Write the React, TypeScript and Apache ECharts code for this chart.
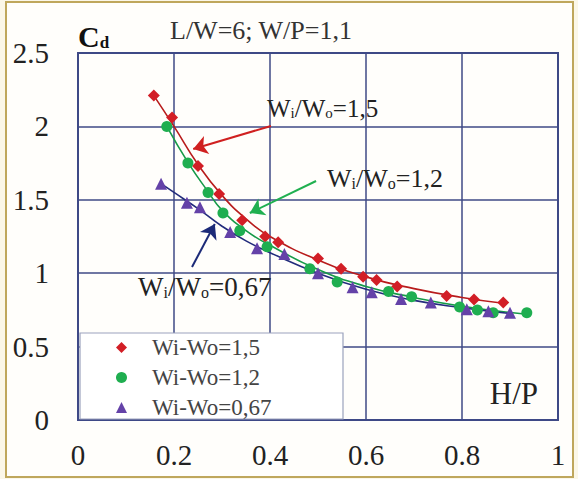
import { useEffect, useRef } from "react";
import * as echarts from "echarts";

const seriesNames = ["Wi-Wo=1,5", "Wi-Wo=1,2", "Wi-Wo=0,67"];
const seriesColors = ["#d21e26", "#1fae50", "#6442a8"];
const curveColors = ["#b81c1c", "#169a48", "#232c7c"];

const red: number[][] = [
  [0.158, 2.21], [0.196, 2.06], [0.25, 1.73], [0.294, 1.54], [0.342, 1.36],
  [0.39, 1.25], [0.417, 1.21], [0.5, 1.1], [0.548, 1.03], [0.594, 0.975],
  [0.622, 0.953], [0.665, 0.91], [0.768, 0.845], [0.825, 0.82], [0.886, 0.8],
];
const green: number[][] = [
  [0.185, 2.0], [0.229, 1.75], [0.271, 1.55], [0.302, 1.41], [0.337, 1.29],
  [0.394, 1.18], [0.483, 1.03], [0.54, 0.94], [0.647, 0.875], [0.695, 0.84],
  [0.795, 0.77], [0.832, 0.75], [0.865, 0.73], [0.935, 0.73],
];
const purple: number[][] = [
  [0.173, 1.61], [0.227, 1.48], [0.254, 1.45], [0.317, 1.28], [0.373, 1.17],
  [0.43, 1.13], [0.5, 1.0], [0.572, 0.905], [0.612, 0.87], [0.673, 0.825],
  [0.735, 0.8], [0.81, 0.755], [0.855, 0.74], [0.9, 0.73],
];

const redCurve: number[][] = [
  [0.158, 2.21], [0.2, 2.0], [0.25, 1.74], [0.3, 1.53], [0.35, 1.37], [0.4, 1.25],
  [0.5, 1.09], [0.6, 0.975], [0.7, 0.895], [0.8, 0.835], [0.886, 0.795],
];
const greenCurve: number[][] = [
  [0.185, 2.0], [0.23, 1.75], [0.27, 1.56], [0.3, 1.43], [0.35, 1.29], [0.4, 1.19],
  [0.5, 1.025], [0.6, 0.91], [0.7, 0.835], [0.8, 0.775], [0.935, 0.72],
];
const purpleCurve: number[][] = [
  [0.173, 1.61], [0.2, 1.55], [0.25, 1.44], [0.3, 1.32], [0.35, 1.22], [0.4, 1.14],
  [0.5, 1.0], [0.6, 0.89], [0.7, 0.815], [0.8, 0.765], [0.9, 0.725],
];

// arrows: [from, to] in data coordinates
const arrowRed = [[0.402, 2.003], [0.24, 1.846]];
const arrowGreen = [[0.496, 1.628], [0.358, 1.41]];
const arrowBlue = [[0.2375, 1.042], [0.285, 1.335]];

const xAxisRange = { min: 0, max: 1, interval: 0.2 };
const yAxisRange = { min: 0, max: 2.5, interval: 0.5 };

const titleText = "L/W=6; W/P=1,1";
const yTitle = ["C", "d"];
const xTitle = "H/P";
const annotations = [
  { text: "{m|W}{s|i}{m|/W}{s|o}{m|=1,5}", x: 267, y: 108, size: 25 },
  { text: "{m|W}{s|i}{m|/W}{s|o}{m|=1,2}", x: 327, y: 178, size: 26 },
  { text: "{m|W}{s|i}{m|/W}{s|o}{m|=0,67}", x: 138, y: 287, size: 27 },
];

const FONT = "Liberation Serif";
const GRIDC = "#3f4a86";

export default function App() {
  const ref = useRef<HTMLDivElement>(null);
  useEffect(() => {
    if (!ref.current) return;
    const chart = echarts.init(ref.current, undefined, { renderer: "svg" });
    const symbols = ["diamond", "circle", "triangle"];
    const scatterData = [red, green, purple];
    const curveData = [redCurve, greenCurve, purpleCurve];
    const arrows = [arrowRed, arrowGreen, arrowBlue];
    const arrowColors = ["#d02020", "#20b050", "#1c2a78"];

    const series: any[] = [];
    curveData.forEach((d, i) => {
      series.push({
        type: "line",
        name: "fit " + seriesNames[i],
        data: d,
        smooth: true,
        showSymbol: false,
        symbol: "none",
        lineStyle: { color: curveColors[i], width: 1.6 },
        z: 2,
        silent: true,
        markLine: {
          silent: true,
          symbol: ["none", "arrow"],
          symbolSize: 14,
          label: { show: false },
          itemStyle: { color: arrowColors[i] },
          lineStyle: { color: arrowColors[i], width: 2, type: "solid" },
          data: [[{ coord: arrows[i][0] }, { coord: arrows[i][1] }]],
        },
      });
    });
    scatterData.forEach((d, i) => {
      series.push({
        type: "scatter",
        name: seriesNames[i],
        data: d,
        symbol: symbols[i],
        symbolSize: i === 1 ? 11 : 12,
        itemStyle: { color: seriesColors[i], opacity: 1 },
        z: 3,
      });
    });

    const axisRich = { a: { fontFamily: FONT, fontSize: 29, color: "#222" } };

    chart.setOption({
      animation: false,
      backgroundColor: "#ffffff",
      textStyle: { fontFamily: FONT },
      grid: {
        left: 78,
        right: 20,
        top: 53,
        bottom: 59,
        show: true,
        borderColor: GRIDC,
        borderWidth: 2,
        backgroundColor: "transparent",
      },
      xAxis: {
        type: "value",
        ...xAxisRange,
        axisLine: { show: false },
        axisTick: { show: false },
        splitLine: { show: true, lineStyle: { color: GRIDC, width: 1.5 } },
        axisLabel: {
          fontFamily: FONT, fontSize: 29, color: "#222", margin: 20,
          formatter: (v: number) => "{a|" + v + "}",
          rich: axisRich,
        },
      },
      yAxis: {
        type: "value",
        ...yAxisRange,
        axisLine: { show: false },
        axisTick: { show: false },
        splitLine: { show: true, lineStyle: { color: GRIDC, width: 1.5 } },
        axisLabel: {
          fontFamily: FONT, fontSize: 29, color: "#222", margin: 29,
          formatter: (v: number) => "{a|" + v + "}",
          rich: axisRich,
        },
      },
      legend: {
        data: seriesNames,
        orient: "vertical",
        left: 116,
        top: 336,
        padding: 0,
        itemWidth: 11,
        itemHeight: 11,
        itemGap: 7,
        selectedMode: false,
        formatter: (n: string) => "{a|" + n + "}",
        textStyle: {
          fontFamily: FONT,
          fontSize: 23,
          color: "#444",
          lineHeight: 22,
          padding: [0, 0, 0, 20],
          rich: { a: { fontFamily: FONT, fontSize: 23, color: "#444", lineHeight: 22 } },
        },
        z: 5,
      },
      graphic: [
        {
          type: "rect",
          z: -10,
          silent: true,
          shape: { x: 0, y: 0, width: 578, height: 479 },
          style: { fill: "#fbf7e8" },
        },
        {
          type: "rect",
          z: -9,
          silent: true,
          shape: { x: 6, y: 2, width: 567, height: 475 },
          style: { fill: "#fffefb", stroke: "#bfa75c", lineWidth: 2 },
        },
        {
          type: "rect",
          z: 4,
          silent: true,
          shape: { x: 80, y: 333, width: 263, height: 86 },
          style: { fill: "#ffffff", stroke: "#9ba2bd", lineWidth: 1.2 },
        },
        {
          type: "text",
          z: 6,
          x: 78,
          y: 36,
          style: {
            text: "{c|" + yTitle[0] + "}{d|" + yTitle[1] + "}",
            verticalAlign: "middle",
            rich: {
              c: { fontFamily: FONT, fontSize: 30, fontWeight: "bold", fill: "#111", lineHeight: 30, verticalAlign: "bottom" },
              d: { fontFamily: FONT, fontSize: 17, fontWeight: "bold", fill: "#111", lineHeight: 17, verticalAlign: "bottom" },
            },
          },
        },
        {
          type: "text",
          z: 6,
          x: 170,
          y: 30,
          style: {
            text: "{t|" + titleText + "}",
            verticalAlign: "middle",
            rich: { t: { fontFamily: FONT, fontSize: 26, fill: "#333", lineHeight: 26 } },
          },
        },
        {
          type: "text",
          z: 6,
          x: 538,
          y: 393,
          style: {
            text: "{t|" + xTitle + "}",
            align: "right",
            verticalAlign: "middle",
            rich: { t: { fontFamily: FONT, fontSize: 31, fill: "#222", lineHeight: 31 } },
          },
        },
        ...annotations.map((a) => ({
          type: "text",
          z: 6,
          x: a.x,
          y: a.y,
          style: {
            text: a.text,
            verticalAlign: "middle",
            rich: {
              m: { fontFamily: FONT, fontSize: a.size, fill: "#222", lineHeight: a.size, verticalAlign: "bottom" },
              s: { fontFamily: FONT, fontSize: Math.round(a.size * 0.6), fill: "#222", lineHeight: Math.round(a.size * 0.6), verticalAlign: "bottom" },
            },
          },
        })),
      ],
      series,
    });
    return () => chart.dispose();
  }, []);
  return (
    <div
      ref={ref}
      style={{ position: "fixed", left: 0, top: 0, width: 578, height: 479 }}
    />
  );
}
